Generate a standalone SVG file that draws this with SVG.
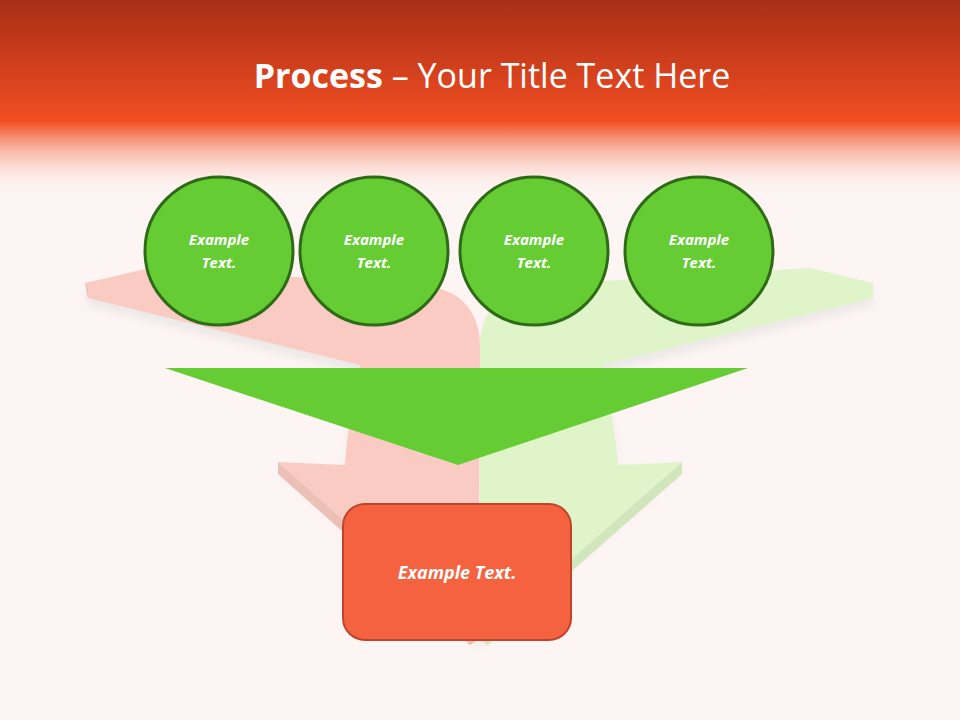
<svg xmlns="http://www.w3.org/2000/svg" width="960" height="720" viewBox="0 0 960 720">
<defs>
<linearGradient id="hdr" x1="0" y1="0" x2="0" y2="1">
<stop offset="0" stop-color="#A82E16"/>
<stop offset="0.62" stop-color="#F24E22"/>
<stop offset="0.68" stop-color="#F47A5A"/>
<stop offset="1" stop-color="#FDF5F3" stop-opacity="0"/>
</linearGradient>
<filter id="sh" x="-10%" y="-10%" width="120%" height="130%"><feGaussianBlur stdDeviation="4"/></filter>
</defs>
<style>
.c{fill:#66CC33;stroke:#2E6B17;stroke-width:3}
.t{font-family:"Open Sans","Liberation Sans",sans-serif;font-weight:bold;font-style:italic;fill:#fff;text-anchor:middle}
</style>
<rect width="960" height="720" fill="#FDF5F3"/>
<g id="bg-arrows">
<path d="M88,298 L360,365 Q348,420 345,465 L278,462 L478,640 L480,345 Q478,300 420,292 L85,283 Z" fill="#DDD" opacity="0.5" filter="url(#sh)" transform="translate(0,8)"/>
<path d="M873,298 L602,365 Q614,420 618,465 L682,462 L480,640 L480,345 Q482,300 540,292 L873,283 Z" fill="#DDD" opacity="0.5" filter="url(#sh)" transform="translate(0,8)"/>
<path d="M88,298 L360,365 Q348,420 345,465 L278,462 L478,640 L480,345 Q478,290 420,285 L150,268 L85,283 Z" fill="#F9CBC2"/>
<path d="M873,298 L602,365 Q614,420 618,465 L682,462 L480,640 L480,345 Q482,290 540,285 L810,268 L873,283 Z" fill="#DFF4C8"/>
<path d="M278,462 L278,474 L470,645 L478,640 Z" fill="#EDC0B6"/>
<path d="M682,462 L682,474 L488,645 L480,640 Z" fill="#D2E6BD"/>
<path d="M85,283 L88,298 L88,290 Z" fill="#EDC0B6"/>
</g>
<rect width="960" height="195" fill="url(#hdr)"/>
<text x="492" y="88" font-family="'Open Sans','Liberation Sans',sans-serif" font-size="34" fill="#fff" text-anchor="middle"><tspan font-weight="bold">Process</tspan> – Your Title Text Here</text>
<g id="connectors">
<polygon points="165,368 748,368 458,465" fill="#66CC33"/>
</g>
<g id="n1"><circle class="c" cx="219" cy="251" r="74"/><text class="t" x="219" y="245" font-size="15">Example</text><text class="t" x="219" y="268" font-size="15">Text.</text></g>
<g id="n2"><circle class="c" cx="374" cy="251" r="74"/><text class="t" x="374" y="245" font-size="15">Example</text><text class="t" x="374" y="268" font-size="15">Text.</text></g>
<g id="n3"><circle class="c" cx="534" cy="251" r="74"/><text class="t" x="534" y="245" font-size="15">Example</text><text class="t" x="534" y="268" font-size="15">Text.</text></g>
<g id="n4"><circle class="c" cx="699" cy="251" r="74"/><text class="t" x="699" y="245" font-size="15">Example</text><text class="t" x="699" y="268" font-size="15">Text.</text></g>
<g id="result"><rect x="343" y="504" width="228" height="136" rx="22" fill="#F56240" stroke="#C0442A" stroke-width="2"/><text class="t" x="457" y="579" font-size="18">Example Text.</text></g>
</svg>
